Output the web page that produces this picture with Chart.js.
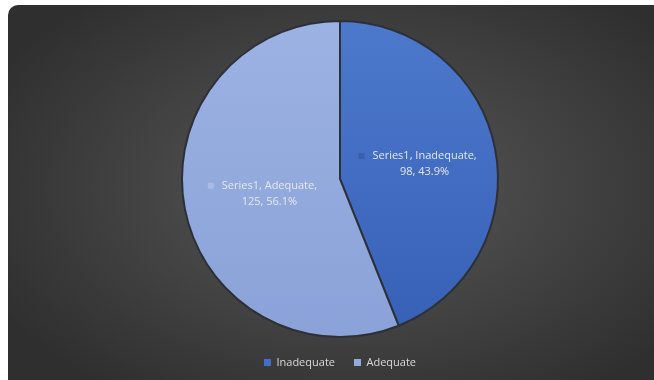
<!DOCTYPE html>
<html>
<head>
<meta charset="utf-8">
<script src="https://cdn.jsdelivr.net/npm/chart.js@4"></script>
<style>
  html, body { margin: 0; padding: 0; background: #fff; }
  #wrap { position: relative; width: 654px; height: 380px; overflow: hidden; }
  #panel {
    position: absolute; left: 8px; top: 5px; width: 670px; height: 400px;
    border-radius: 10px;
    background: radial-gradient(ellipse 60% 62% at 51% 46%, #5a5a5a 0%, #444 50%, #2f2f2f 100%);
  }
  canvas { position: absolute; left: 0; top: 0; }
</style>
</head>
<body>
<div id="wrap">
  <div id="panel"></div>
  <canvas id="pieChart" width="654" height="380"></canvas>
</div>
<script>
// --- chart data ---
const seriesName = 'Series1';
const categories = ['Inadequate', 'Adequate'];
const counts = [98, 125];
const percentLabels = ['43.9%', '56.1%'];

// colours per slice (top / bottom of the gradient)
const sliceTop = ['#4d79cd', '#9cb2e3'];
const sliceBottom = ['#3660b6', '#8ba2d8'];
const sliceFlat = ['#4270c4', '#93aadd'];
const keyColors = ['#3a5fae', '#aabbe4'];

const FONT = '"Open Sans", "Noto Sans", sans-serif';

function sliceColor(ctx) {
    const chart = ctx.chart;
    const area = chart.chartArea;
    const i = ctx.dataIndex;
    if (!area) return sliceFlat[i];
    const g = chart.ctx.createLinearGradient(0, area.top, 0, area.bottom);
    g.addColorStop(0, sliceTop[i]);
    g.addColorStop(1, sliceBottom[i]);
    return g;
}

// data labels "Series1, Name, value, pct" with a small key square
const sliceLabels = {
    id: 'sliceLabels',
    afterDatasetsDraw(chart) {
        const ctx = chart.ctx;
        const meta = chart.getDatasetMeta(0);
        ctx.save();
        ctx.font = '11px ' + FONT;
        ctx.textBaseline = 'middle';
        meta.data.forEach((arc, i) => {
            const p = arc.getCenterPoint();
            const line1 = seriesName + ', ' + categories[i] + ',';
            const line2 = counts[i] + ', ' + percentLabels[i];
            const key = 6, gap = 8;
            const w1 = ctx.measureText(line1).width;
            const startX = p.x - (key + gap + w1) / 2;
            const textX = startX + key + gap;
            const y1 = p.y - 8, y2 = p.y + 8;
            ctx.fillStyle = keyColors[i];
            ctx.fillRect(startX, y1 - 3, key, key);
            ctx.fillStyle = '#e4e8f0';
            ctx.textAlign = 'left';
            ctx.fillText(line1, textX, y1);
            ctx.textAlign = 'center';
            ctx.fillText(line2, textX + w1 / 2, y2);
        });
        ctx.restore();
    }
};

new Chart(document.getElementById('pieChart'), {
    type: 'pie',
    data: {
        labels: categories,
        datasets: [{
            data: counts,
            backgroundColor: sliceColor,
            borderColor: '#2e3038',
            borderWidth: 2
        }]
    },
    options: {
        responsive: false,
        animation: false,
        layout: { padding: { left: 26, right: 0, top: 20, bottom: 2 } },
        plugins: {
            legend: {
                position: 'bottom',
                labels: {
                    color: '#d9d9d9',
                    font: { size: 11, family: FONT },
                    boxWidth: 7,
                    boxHeight: 7,
                    padding: 19,
                    generateLabels(chart) {
                        return categories.map((c, i) => ({
                            text: c,
                            fillStyle: sliceFlat[i],
                            strokeStyle: sliceFlat[i],
                            lineWidth: 0,
                            fontColor: '#d9d9d9',
                            index: i
                        }));
                    }
                }
            },
            tooltip: { enabled: false }
        }
    },
    plugins: [sliceLabels]
});
</script>
</body>
</html>
